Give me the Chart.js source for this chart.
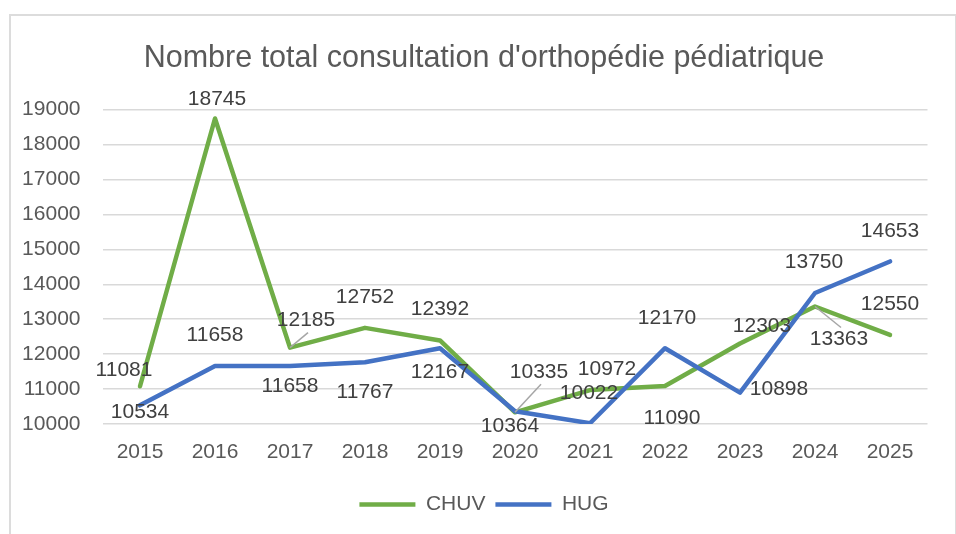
<!DOCTYPE html>
<html>
<head>
<meta charset="utf-8">
<title>Nombre total consultation d'orthopédie pédiatrique</title>
<script src="https://cdn.jsdelivr.net/npm/chart.js@4/dist/chart.umd.min.js"></script>
<style>
  html, body { margin: 0; padding: 0; background: #fff; }
  #wrap { position: relative; width: 956px; height: 534px; overflow: hidden; }
  #frame { position: absolute; left: 9px; top: 14px; width: 944px; height: 540px; border: 2px solid #dcdcdc; }
  #chart { position: absolute; left: 0; top: 0; }
</style>
</head>
<body>
<div id="wrap">
  <div id="frame"></div>
  <canvas id="chart" width="956" height="534"></canvas>
</div>
<script>
const years = ['2015', '2016', '2017', '2018', '2019', '2020', '2021', '2022', '2023', '2024', '2025'];
const chuv = [11081, 18745, 12185, 12752, 12392, 10335, 10972, 11090, 12303, 13363, 12550];
const hug = [10534, 11658, 11658, 11767, 12167, 10364, 10022, 12170, 10898, 13750, 14653];

// where each value label sits relative to its point [dx, dy], and if a leader line is drawn
const chuvLabelPos = [[-16, -16], [2, -19], [16, -27], [0, -31], [0, -31], [24, -40], [17, -21], [7, 32], [22, -17], [24, 33], [0, -31]];
const hugLabelPos = [[0, 7], [0, -31], [0, 20], [0, 30], [0, 24], [-5, 15], [-1, -30], [2, -30], [39, -3], [-1, -31], [0, -30]];
const chuvLeaders = [false, false, true, false, false, true, false, false, false, true, false];

const FONT = "'Liberation Sans', Arial, sans-serif";
const TXT = 21;

// draws the value labels (no datalabels plugin available offline)
const valueLabels = {
    id: 'valueLabels',
    afterDatasetsDraw(chart) {
        const ctx = chart.ctx;
        ctx.save();
        ctx.font = TXT + 'px ' + FONT;
        ctx.textAlign = 'center';
        ctx.textBaseline = 'middle';
        chart.data.datasets.forEach((ds, i) => {
            const meta = chart.getDatasetMeta(i);
            meta.data.forEach((pt, j) => {
                const [dx, dy] = ds.labelPos[j];
                const lx = pt.x + dx, ly = pt.y + dy;
                if (ds.leaders && ds.leaders[j]) {
                    const ey = dy < 0 ? ly + 12 : ly - 12;
                    ctx.strokeStyle = '#a6a6a6';
                    ctx.lineWidth = 1.5;
                    ctx.beginPath();
                    ctx.moveTo(pt.x, pt.y);
                    ctx.lineTo(lx + (dx > 0 ? 2 : 0), ey);
                    ctx.stroke();
                }
                ctx.fillStyle = '#404040';
                ctx.fillText(String(ds.data[j]), lx, ly);
            });
        });
        ctx.restore();
    }
};

new Chart(document.getElementById('chart'), {
    type: 'line',
    data: {
        labels: years,
        datasets: [
            {
                label: 'CHUV',
                data: chuv,
                labelPos: chuvLabelPos,
                leaders: chuvLeaders,
                borderColor: '#70AD47',
                backgroundColor: '#70AD47',
                borderWidth: 4.5,
                borderCapStyle: 'round',
                borderJoinStyle: 'round',
                order: 1
            },
            {
                label: 'HUG',
                data: hug,
                labelPos: hugLabelPos,
                borderColor: '#4472C4',
                backgroundColor: '#4472C4',
                borderWidth: 4.5,
                borderCapStyle: 'round',
                borderJoinStyle: 'round',
                order: 0
            }
        ]
    },
    options: {
        responsive: false,
        animation: false,
        layout: { padding: { left: 12, right: 0, top: 0, bottom: 9 } },
        elements: {
            line: { tension: 0 },
            point: { radius: 0, hoverRadius: 0, pointStyle: 'line' }
        },
        scales: {
            x: {
                offset: true,
                grid: { display: false },
                border: { display: false },
                ticks: { color: '#595959', font: { family: FONT, size: TXT }, padding: 8, maxRotation: 0 },
                afterFit: (scale) => { scale.height = 60; }
            },
            y: {
                min: 10000,
                max: 19000,
                grid: { color: '#d9d9d9', lineWidth: 1.5, drawTicks: false },
                border: { display: false },
                ticks: {
                    stepSize: 1000,
                    color: '#595959',
                    font: { family: FONT, size: TXT },
                    padding: 22,
                    callback: (v) => String(v)
                },
                afterFit: (scale) => { scale.width = 90.5; }
            },
            // empty right-hand margin so title and legend sit centred on the frame
            yRight: {
                position: 'right',
                grid: { display: false },
                border: { display: false },
                ticks: { display: false },
                afterFit: (scale) => { scale.width = 28.5; }
            }
        },
        plugins: {
            title: {
                display: true,
                text: "Nombre total consultation d'orthopédie pédiatrique",
                color: '#595959',
                font: { family: FONT, size: 30.5, weight: 'normal' },
                padding: { top: 40, bottom: 33 }
            },
            legend: {
                position: 'bottom',
                reverse: true,
                labels: {
                    usePointStyle: true,
                    pointStyleWidth: 56,
                    color: '#595959',
                    font: { family: FONT, size: TXT },
                    padding: 10
                }
            },
            tooltip: { enabled: false }
        }
    },
    plugins: [valueLabels]
});
</script>
</body>
</html>
